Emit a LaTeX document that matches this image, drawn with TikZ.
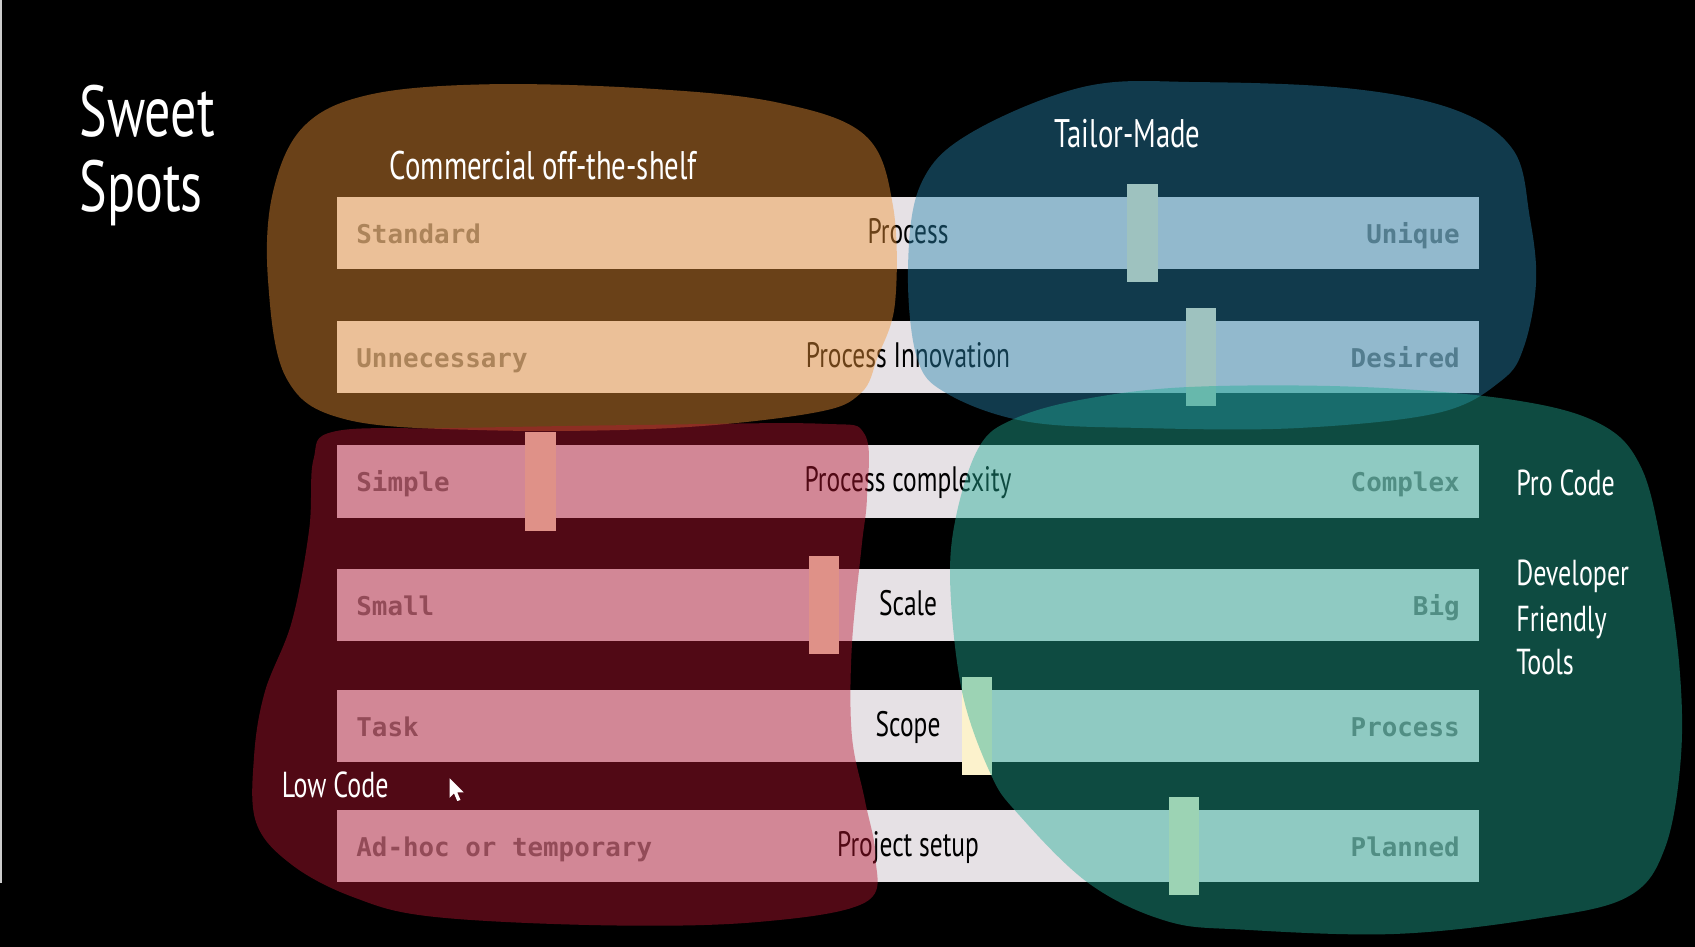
\documentclass[tikz,border=0pt]{standalone}
\usepackage{fontspec}
\usepackage{tikz}
\usetikzlibrary{positioning}
\newfontfamily\handfont[FakeStretch=0.72]{PT Sans}
\newfontfamily\barfont{DejaVu Sans Mono Bold}
\definecolor{bargray}{RGB}{230,225,229}
\definecolor{knobcream}{RGB}{252,242,204}
\definecolor{labgray}{RGB}{118,118,118}
\definecolor{cotsbrown}{RGB}{243,150,55}
\definecolor{tailorblue}{RGB}{39,134,175}
\definecolor{lowred}{RGB}{186,22,50}
\definecolor{progreen}{RGB}{34,173,150}

\begin{document}
\begin{tikzpicture}[x=0.01cm,y=-0.01cm,
  bar/.style={fill=bargray},
  knob/.style={fill=knobcream},
  endlab/.style={font=\barfont\fontsize{6.8}{8}\selectfont,text=labgray,inner sep=0pt},
  midlab/.style={font=\handfont\fontsize{9.3}{10}\selectfont,inner sep=0pt,anchor=base},
  headlab/.style={font=\handfont\fontsize{10.5}{12}\selectfont,text=white,inner sep=0pt,anchor=base west},
  sidelab/.style={headlab,font=\handfont\fontsize{9.5}{12}\selectfont},
  blob/.style={fill opacity=0.44}]
  \useasboundingbox (0,0) rectangle (1568,876);
  \fill[black] (0,0) rectangle (1568,876);
  \fill[white!80!black] (0,0) rectangle (1.5,817);
  % sliders
  \foreach \t/\l/\m/\r/\k [count=\i] in {182/Standard/Process/Unique/1043,
      297/Unnecessary/Process Innovation/Desired/1097,
      412/Simple/Process complexity/Complex/486,
      526/Small/Scale/Big/748,
      638/Task/Scope/Process/890,
      749/Ad-hoc or temporary/Project setup/Planned/1081}{
    \fill[bar] (312,\t) rectangle (1368,\t+67);
    \fill[knob] (\k,\t-12) rectangle (\k+28,\t+79);
    \node[endlab,anchor=base west] (lo\i) at (329,\t+43) {\l};
    \node[endlab,anchor=base east] (hi\i) at (1351,\t+43) {\r};
    \node[midlab] (mid\i) at (840,\t+43) {\m};
  }
  % Commercial off-the-shelf
  \fill[blob,cotsbrown] plot[smooth cycle,tension=0.6] coordinates {
    (340,88) (450,78) (600,82) (720,95) (800,125) (826,190) (828,280)
    (812,330) (796,364) (752,382) (620,396) (450,398) (320,388)
    (265,350) (248,260) (252,180) (280,118)};
  % Tailor-Made
  \fill[blob,tailorblue] plot[smooth cycle,tension=0.6] coordinates {
    (898,123) (1004,80) (1110,76) (1250,82) (1347,102) (1400,139)
    (1415,200) (1421,260) (1410,320) (1389,352) (1330,382) (1200,396)
    (1060,396) (950,390) (876,364) (848,330) (840,247) (852,170)};
  % Low Code
  \fill[blob,lowred] plot[smooth cycle,tension=0.6] coordinates {
    (310,399) (420,396) (600,393) (760,392) (800,402) (802,460)
    (797,506) (788,598) (788,680) (800,740) (810,793) (800,835)
    (700,853) (560,856) (400,848) (327,830) (270,800) (237,761)
    (235,700) (245,640) (270,575) (286,490) (290,425)};
  % Pro Code
  \fill[blob,progreen] plot[smooth cycle,tension=0.6] coordinates {
    (999,370) (1100,358) (1260,358) (1400,370) (1480,392) (1518,432)
    (1538,510) (1553,610) (1555,700) (1540,785) (1505,830) (1420,850)
    (1290,864) (1150,860) (1079,852) (1007,817) (941,752) (916,715)
    (890,640) (879,540) (885,475) (906,413) (937,388)};
  % labels
  \node[headlab,font=\handfont\fontsize{19}{20}\selectfont] (sweet) at (73,126) {Sweet};
  \node[headlab,font=\handfont\fontsize{19}{20}\selectfont] (spots) at (73,196) {Spots};
  \node[headlab] (cots) at (360,166) {Commercial off-the-shelf};
  \node[headlab] (tailor) at (975,136) {Tailor-Made};
  \node[sidelab] (pro) at (1402,458) {Pro Code};
  \node[sidelab] (dev) at (1402,542) {Developer};
  \node[sidelab] (friendly) at (1402,584) {Friendly};
  \node[sidelab] (tools) at (1402,624) {Tools};
  \node[sidelab] (low) at (260,738) {Low Code};
  % pointer
  \fill[white] (416,720) -- (416,738) -- (420,734) -- (423,741) -- (426,740)
    -- (423,733) -- (429,733) -- cycle;
\end{tikzpicture}
\end{document}
